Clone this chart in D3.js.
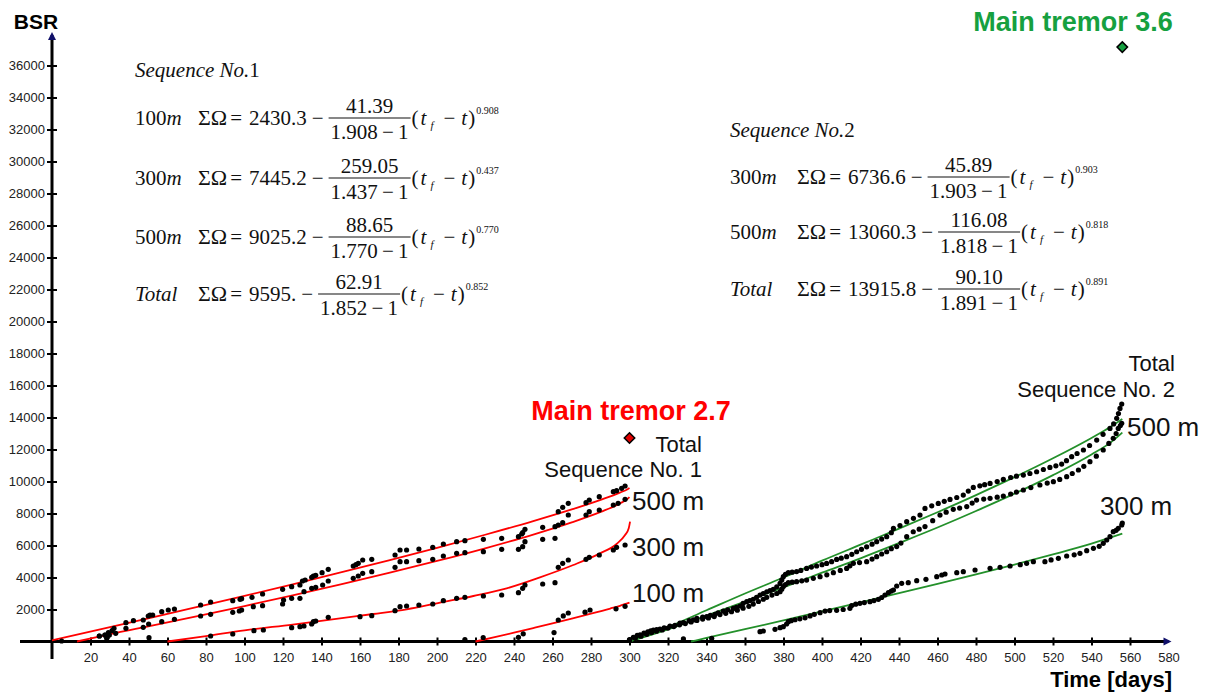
<html>
<meta charset="utf-8" />
<head>
<title>BSR vs time, two sequences</title>
<script src="https://d3js.org/d3.v7.min.js"></script>
<style>
body { margin:0; background:#fff; }
svg { font-family: "Liberation Sans", Arial, sans-serif; }
.eq { font-family: "Liberation Serif", "Times New Roman", serif; font-size:21px; fill:#111; }
</style>
<script>
// tick labels
const xTickValues = [20,40,60,80,100,120,140,160,180,200,220,240,260,280,300,320,340,360,380,400,420,440,460,480,500,520,540,560,580];
const yTickValues = [2000,4000,6000,8000,10000,12000,14000,16000,18000,20000,22000,24000,26000,28000,30000,32000,34000,36000];

// Sequence No.1 observations [day, BSR]
const seq1Total = [[5,30],[24.6,344],[27.5,406],[29.3,552],[31.2,677],[32.2,823],[38.4,1177],[42.3,1302],[47.4,1344],[50.0,1594],[50.9,1656],[52.3,1656],[57.0,1865],[60.4,1969],[63.6,2031],[77.2,2281],[82.4,2469],[93.9,2552],[97.7,2635],[98.5,2677],[103.9,2760],[109.4,2969],[119.8,3260],[124.5,3427],[128.8,3531],[130.1,3781],[131.5,3844],[134.9,4010],[135.8,4094],[137.0,4135],[140.3,4302],[143.5,4510],[156.5,4719],[157.9,4800],[159.1,4885],[161.4,5094],[166.1,5135],[178.2,5406],[180.8,5719],[184.2,5719],[190.6,5781],[197.8,5885],[203.3,6094],[210.2,6240],[214.5,6302],[224.1,6385],[233.6,6448],[242.3,6552],[244.0,6719],[244.5,6802],[245.7,7010],[254.9,7135],[261.3,7177],[263.0,8115],[265.3,8385],[268.2,8635],[277.4,8677],[279.1,8844],[284.3,9052],[291.6,9365],[293.3,9427],[295.9,9573],[297.7,9719]];
const seq1M500 = [[24.6,344],[27.5,406],[28.4,198],[28.7,260],[29.8,406],[33.1,510],[38.4,823],[47.4,885],[50.2,1094],[57.0,1240],[63.6,1385],[77.2,1594],[82.4,1698],[93.9,1823],[97.3,1906],[98.5,1969],[104.6,2177],[109.4,2240],[119.8,2344],[120.3,2594],[124.5,2698],[128.8,2698],[130.9,3115],[134.9,3323],[137.0,3385],[140.6,3531],[143.5,3781],[156.5,3948],[159.1,4094],[161.4,4260],[166.1,4365],[178.2,4635],[180.8,4990],[184.2,4990],[190.6,5052],[197.8,5135],[203.3,5344],[210.2,5510],[214.5,5552],[224.1,5615],[233.6,5760],[242.3,5760],[244.5,5927],[245.7,6240],[254.9,6385],[261.3,6448],[263.0,7281],[265.3,7427],[268.2,7906],[277.4,7906],[279.1,8115],[284.3,8219],[291.6,8531],[294.1,8635],[297.7,8885]];
const seq1M300 = [[50.4,240],[82.4,344],[93.9,469],[104.9,677],[109.8,719],[124.5,865],[128.8,927],[130.9,969],[134.9,1094],[135.8,1240],[137.0,1281],[143.5,1510],[160.0,1552],[166.1,1615],[178.2,1927],[180.8,2177],[184.2,2219],[190.6,2281],[197.8,2344],[203.3,2552],[210.2,2698],[214.5,2760],[224.1,2844],[233.6,2906],[242.3,3052],[244.5,3323],[245.7,3531],[254.9,3594],[261.3,3677],[263.0,4635],[265.3,4885],[268.2,5094],[277.4,5135],[279.1,5260],[284.3,5406],[291.6,5719],[293.3,5885],[297.7,6031]];
const seq1M100 = [[214.5,120],[224.0,250],[242.3,260],[244.8,480],[260.8,560],[263.0,1344],[265.6,1600],[268.2,1780],[276.9,1830],[279.5,1969],[293.0,2040],[297.7,2200]];

// Sequence No.1 fitted curves
const fit1Total = [[0,70],[25,751],[50,1442],[75,2142],[100,2853],[125,3578],[150,4318],[175,5077],[200,5859],[225,6672],[250,7526],[270,8256],[285,8853],[295,9304],[299,9521],[300,9595]];
const fit1M500 = [[13,0],[25,327],[50,942],[75,1573],[100,2217],[125,2883],[150,3571],[175,4285],[200,5033],[225,5826],[250,6684],[270,7445],[285,8099],[295,8627],[299,8910],[300,9025]];
const fit1M300 = [[60,0],[80,340],[100,700],[125,1060],[149.6,1450],[166.9,1719],[184.3,2010],[201.6,2427],[218.9,2844],[236.2,3323],[253.5,4010],[270.8,4781],[284.7,5510],[293.3,6094],[297.7,6656],[299.6,7073],[300.3,7490]];
const fit1M100 = [[220,0],[230,272],[240,553],[250,840],[260,1131],[270,1430],[280,1738],[290,2061],[295,2233],[300,2430]];

// Sequence No.2 observations
const seq2Total = [[300,120],[302,260],[304,380],[305.5,420],[307.5,520],[309.5,600],[311,660],[312.4,720],[314.1,740],[315.8,780],[318,860],[321,970],[323.6,1010],[326.2,1150],[328,1180],[331,1300],[333.2,1350],[335,1450],[338,1520],[340.1,1560],[342,1640],[344.4,1700],[346,1790],[348.7,1900],[351,1980],[353.9,2070],[355.5,2140],[357.4,2220],[359,2380],[360.9,2490],[362.5,2560],[364.3,2640],[366,2760],[367.8,2900],[369.5,3000],[371.3,3110],[373,3180],[374.7,3260],[376.5,3420],[378.2,3630],[379.1,3850],[379.9,4050],[381,4200],[382.5,4300],[384.5,4330],[386.8,4370],[389,4440],[392,4570],[394.5,4650],[397.2,4720],[400,4800],[402.4,4880],[405,4990],[407.6,5130],[410,5210],[412.8,5300],[415.5,5450],[418,5610],[420.5,5760],[423.2,5920],[426,6080],[428.4,6240],[431,6400],[433.6,6550],[436,6800],[437.1,7070],[440.5,7250],[444,7490],[447.5,7700],[450.9,7900],[453.5,8320],[457,8480],[460.4,8630],[463.5,8760],[466.5,8880],[470,9000],[473.4,9150],[476,9400],[478.6,9630],[482,9730],[484.5,9800],[487.3,9880],[491,10000],[494.2,10130],[498,10250],[501,10330],[504.6,10400],[508,10500],[511.5,10610],[515,10750],[518.4,10880],[521.5,10980],[524.5,11090],[527,11300],[529.7,11550],[532.5,11750],[535.8,11970],[539,12250],[542.7,12590],[546,12950],[549.6,13320],[551.5,13600],[553.1,13950],[554,14250],[554.8,14570],[555.7,14840]];
const seq2M500 = [[300,80],[303,200],[306,330],[309,450],[311.5,560],[314,640],[317,720],[320,840],[323,930],[326,1040],[329,1120],[332,1220],[335,1320],[338,1400],[341,1470],[344,1560],[347,1680],[350,1760],[353,1860],[356,1960],[359,2080],[362,2200],[364.3,2340],[367,2500],[369.5,2640],[371.3,2760],[374,2900],[376.5,3000],[378.2,3110],[379.1,3270],[379.9,3430],[381,3560],[382.5,3680],[384.5,3710],[386.8,3740],[389.5,3790],[392,3840],[395.5,3950],[399,4050],[402.5,4170],[405.9,4300],[409.5,4440],[412.8,4570],[414.5,4730],[416.3,4885],[419.5,4930],[423.2,4990],[426,5150],[428.4,5300],[431,5470],[433.6,5610],[436,5800],[438.8,5930],[441,6150],[444,6550],[447.4,6860],[450.5,7020],[453.5,7180],[457.5,7550],[461.3,7900],[464.5,8080],[468.2,8260],[471.5,8340],[475.2,8430],[478,8650],[480.3,8840],[484,8900],[487.3,8950],[491,9020],[494.2,9090],[498,9220],[501,9340],[504.6,9470],[508.5,9620],[513.2,9780],[517,9900],[520.2,9990],[523.5,10130],[527.1,10300],[530,10500],[533.2,10720],[536,10950],[539.2,11240],[542.5,11580],[546.1,11970],[549,12380],[551.3,12700],[552.8,13000],[553.9,13320],[555,13500],[555.7,13640]];
const seq2M300 = [[328,160],[342.7,200],[367.8,615],[369.5,656],[375.6,760],[378.2,865],[379.9,927],[381.6,1094],[382.5,1240],[384,1300],[386,1360],[388.5,1420],[391.2,1480],[393.8,1600],[396,1700],[399,1800],[401.6,1900],[404,1930],[407.6,1950],[411,2000],[414.5,2073],[415.4,2250],[417.5,2330],[419.7,2385],[422,2430],[424.9,2490],[427,2560],[429.3,2635],[431,2750],[432.7,2906],[434.5,3050],[436,3150],[437.1,3219],[438.8,3469],[441.4,3635],[444.8,3677],[449.2,3802],[454,3885],[459.6,4052],[462.2,4156],[463.9,4219],[470,4302],[473.4,4365],[479.5,4469],[487.3,4573],[492.5,4635],[497.7,4719],[503,4800],[506.3,4885],[509.8,4990],[515.8,4990],[519,5100],[522.8,5198],[527.1,5344],[531,5420],[534,5510],[537.5,5677],[541,5823],[544,5950],[546.1,6135],[547.9,6344],[549.6,6552],[551.3,6865],[552.8,6950],[553.9,7073],[555.7,7281],[556,7400]];

// Sequence No.2 fitted curves
const fit2Total = [[300,0],[320,900],[340,1950],[360,3000],[380,4000],[400,5050],[420,6050],[440,7050],[460,8080],[480,9150],[500,10270],[520,11450],[540,12720],[550,13420],[556,13900]];
const fit2M500 = [[300,0],[320,760],[340,1620],[360,2500],[380,3380],[400,4300],[420,5200],[440,6150],[460,7124],[480,8156],[500,9240],[520,10399],[540,11689],[550,12446],[556,13060]];
const fit2M300 = [[332,0],[340,221],[360,766],[380,1320],[400,1879],[420,2444],[440,3019],[460,3603],[480,4200],[500,4811],[520,5445],[540,6116],[556,6737]];

// main tremors
const mainTremor1 = [300, 12720];
const mainTremor2 = [556, 37150];

// equations
const seq1Names = ['100m','300m','500m','Total'];
const seq1Const = ['2430.3','7445.2','9025.2','9595.'];
const seq1Num = ['41.39','259.05','88.65','62.91'];
const seq1Den = ['1.908','1.437','1.770','1.852'];
const seq1Exp = ['0.908','0.437','0.770','0.852'];
const seq2Names = ['300m','500m','Total'];
const seq2Const = ['6736.6','13060.3','13915.8'];
const seq2Num = ['45.89','116.08','90.10'];
const seq2Den = ['1.903','1.818','1.891'];
const seq2Exp = ['0.903','0.818','0.891'];

window.onload = function() {
	const svg = d3.select('svg');
	const RED = '#ff0000', GREEN = '#23902a', GREEN_TXT = '#16a040';

	const xScale = d3.scaleLinear().domain([0, 580]).range([52, 1168.5]);
	const yScale = d3.scaleLinear().domain([0, 36000]).range([641.5, 65.5]);

	// axes lines (thick, crossing)
	svg.append('line').attr('x1', 20).attr('x2', xScale(580)).attr('y1', yScale(0)).attr('y2', yScale(0))
		.attr('stroke', '#000').attr('stroke-width', 3);
	svg.append('line').attr('x1', xScale(0)).attr('x2', xScale(0)).attr('y1', 659).attr('y2', yScale(37900))
		.attr('stroke', '#000').attr('stroke-width', 3);
	// arrow heads
	const ax = xScale(580), ay = yScale(0);
	svg.append('path').attr('d', `M${ax+3},${ay} L${ax-5},${ay-4} L${ax-5},${ay+4} Z`).attr('fill', '#10106a');
	const ty = yScale(37900), tx = xScale(0);
	svg.append('path').attr('d', `M${tx},${ty-3} L${tx-4},${ty+5} L${tx+4},${ty+5} Z`).attr('fill', '#10106a');

	const xAxis = d3.axisBottom(xScale).tickValues(xTickValues).tickSize(4).tickPadding(7);
	const gx = svg.append('g').attr('transform', `translate(0,${yScale(0)})`).call(xAxis);
	gx.select('.domain').remove();
	gx.selectAll('.tick line').attr('y1', -4).attr('stroke-width', 2);
	gx.selectAll('.tick').filter(d => d === 580).select('line').remove();
	gx.selectAll('.tick text').attr('font-size', 13).attr('font-family', '"Liberation Sans", Arial, sans-serif').attr('fill', '#222');

	const yAxis = d3.axisLeft(yScale).tickValues(yTickValues).tickFormat(d3.format('d')).tickSize(5).tickPadding(2);
	const gy = svg.append('g').attr('transform', `translate(${xScale(0)},0)`).call(yAxis);
	gy.select('.domain').remove();
	gy.selectAll('.tick line').attr('x1', 5).attr('stroke-width', 2);
	gy.selectAll('.tick text').attr('font-size', 13).attr('font-family', '"Liberation Sans", Arial, sans-serif').attr('fill', '#222');

	svg.append('text').attr('x', 36).attr('y', 29).attr('text-anchor', 'middle')
		.attr('font-size', 21).attr('font-weight', 'bold').text('BSR');
	svg.append('text').attr('x', 1172).attr('y', 687).attr('text-anchor', 'end')
		.attr('font-size', 22).attr('font-weight', 'bold').text('Time [days]');

	// fitted curves
	const line = d3.line().x(d => xScale(d[0])).y(d => yScale(d[1])).curve(d3.curveMonotoneX);
	[fit1Total, fit1M500, fit1M300, fit1M100].forEach(f => {
		svg.append('path').datum(f).attr('d', line).attr('fill', 'none').attr('stroke', RED).attr('stroke-width', 1.8);
	});
	[fit2Total, fit2M500, fit2M300].forEach(f => {
		svg.append('path').datum(f).attr('d', line).attr('fill', 'none').attr('stroke', GREEN).attr('stroke-width', 1.8);
	});

	// observed points
	const allPts = [].concat(seq1Total, seq1M500, seq1M300, seq1M100, seq2Total, seq2M500, seq2M300);
	svg.append('g').selectAll('circle').data(allPts).enter().append('circle')
		.attr('cx', d => xScale(d[0])).attr('cy', d => yScale(d[1])).attr('r', 2.6).attr('fill', '#000');

	// main tremor diamonds
	const diamond = d3.symbol().type(d3.symbolDiamond2).size(70);
	svg.append('path').attr('d', diamond).attr('transform', `translate(${xScale(mainTremor1[0])},${yScale(mainTremor1[1])})`)
		.attr('fill', '#e00000').attr('stroke', '#000').attr('stroke-width', 1.5);
	svg.append('path').attr('d', diamond).attr('transform', `translate(${xScale(mainTremor2[0])},${yScale(mainTremor2[1])})`)
		.attr('fill', GREEN_TXT).attr('stroke', '#000').attr('stroke-width', 1.5);

	svg.append('text').attr('x', 631).attr('y', 420).attr('text-anchor', 'middle').attr('font-size', 27)
		.attr('font-weight', 'bold').attr('fill', RED).text('Main tremor 2.7');
	svg.append('text').attr('x', 1073).attr('y', 31).attr('text-anchor', 'middle').attr('font-size', 27)
		.attr('font-weight', 'bold').attr('fill', GREEN_TXT).text('Main tremor 3.6');

	// curve labels
	const lab = (x, y, s, t, anchor) => svg.append('text').attr('x', x).attr('y', y).attr('font-size', s)
		.attr('text-anchor', anchor || 'start').attr('fill', '#111').text(t);
	lab(702, 452, 22, 'Total', 'end');
	lab(702, 477, 22, 'Sequence No. 1', 'end');
	lab(632, 510, 26, '500 m');
	lab(632, 556, 26, '300 m');
	lab(632, 602, 26, '100 m');
	lab(1175, 371, 22, 'Total', 'end');
	lab(1175, 397, 22, 'Sequence No. 2', 'end');
	lab(1127, 436, 26, '500 m');
	lab(1100, 515, 26, '300 m');

	// equations: label, sum, fraction, (t_f - t)^p
	function drawEquation(x0, xe, yBar, name, cst, num, den, pw) {
		const g = svg.append('g').attr('class', 'eq');
		const base = yBar + 7;
		const t1 = g.append('text').attr('x', x0).attr('y', base);
		if (name === 'Total') {
			t1.append('tspan').attr('font-style', 'italic').text('Total');
		} else {
			t1.append('tspan').text(name.replace('m', ''));
			t1.append('tspan').attr('font-style', 'italic').text('m');
		}
		const t2 = g.append('text').attr('x', xe).attr('y', base);
		t2.append('tspan').attr('font-size', 22).text('\u03A3\u03A9');
		t2.append('tspan').attr('dx', 3).text('=');
		t2.append('tspan').attr('dx', 7).text(cst);
		t2.append('tspan').attr('dx', 5).text('\u2212');
		const fx = xe + t2.node().getComputedTextLength() + 20;
		const tn = g.append('text').attr('y', yBar - 5).attr('text-anchor', 'middle').text(num);
		const td = g.append('text').attr('y', yBar + 21).attr('text-anchor', 'middle').text(den + '\u2009\u2212\u20091');
		const w = Math.max(tn.node().getComputedTextLength(), td.node().getComputedTextLength()) + 4;
		tn.attr('x', fx + w / 2);
		td.attr('x', fx + w / 2);
		g.append('line').attr('x1', fx).attr('x2', fx + w).attr('y1', yBar).attr('y2', yBar)
			.attr('stroke', '#111').attr('stroke-width', 1.1);
		const t3 = g.append('text').attr('x', fx + w + 1).attr('y', base);
		t3.append('tspan').text('(');
		t3.append('tspan').attr('font-style', 'italic').attr('dx', 2).text('t');
		t3.append('tspan').attr('font-style', 'italic').attr('font-size', 11).attr('dx', 4).attr('dy', 4).text('f');
		t3.append('tspan').attr('dy', -4).attr('dx', 10).text('\u2212');
		t3.append('tspan').attr('font-style', 'italic').attr('dx', 6).text('t');
		t3.append('tspan').attr('dx', 1).text(')');
		t3.append('tspan').attr('font-size', 10).attr('dx', 1).attr('dy', -11).text(pw);
	}

	const seq1Title = svg.append('text').attr('class', 'eq').attr('x', 135).attr('y', 77);
	seq1Title.append('tspan').attr('font-style', 'italic').text('Sequence No.');
	seq1Title.append('tspan').text('1');
	const seq1Bars = [118, 178, 237, 294];
	seq1Names.forEach((n, i) => drawEquation(135, 198, seq1Bars[i], n, seq1Const[i], seq1Num[i], seq1Den[i], seq1Exp[i]));

	const seq2Title = svg.append('text').attr('class', 'eq').attr('x', 730).attr('y', 137);
	seq2Title.append('tspan').attr('font-style', 'italic').text('Sequence No.');
	seq2Title.append('tspan').text('2');
	const seq2Bars = [177, 232, 289];
	seq2Names.forEach((n, i) => drawEquation(730, 797, seq2Bars[i], n, seq2Const[i], seq2Num[i], seq2Den[i], seq2Exp[i]));
}
</script>
</head>
<body>
<svg width="1211" height="693"></svg>
</body>
</html>
